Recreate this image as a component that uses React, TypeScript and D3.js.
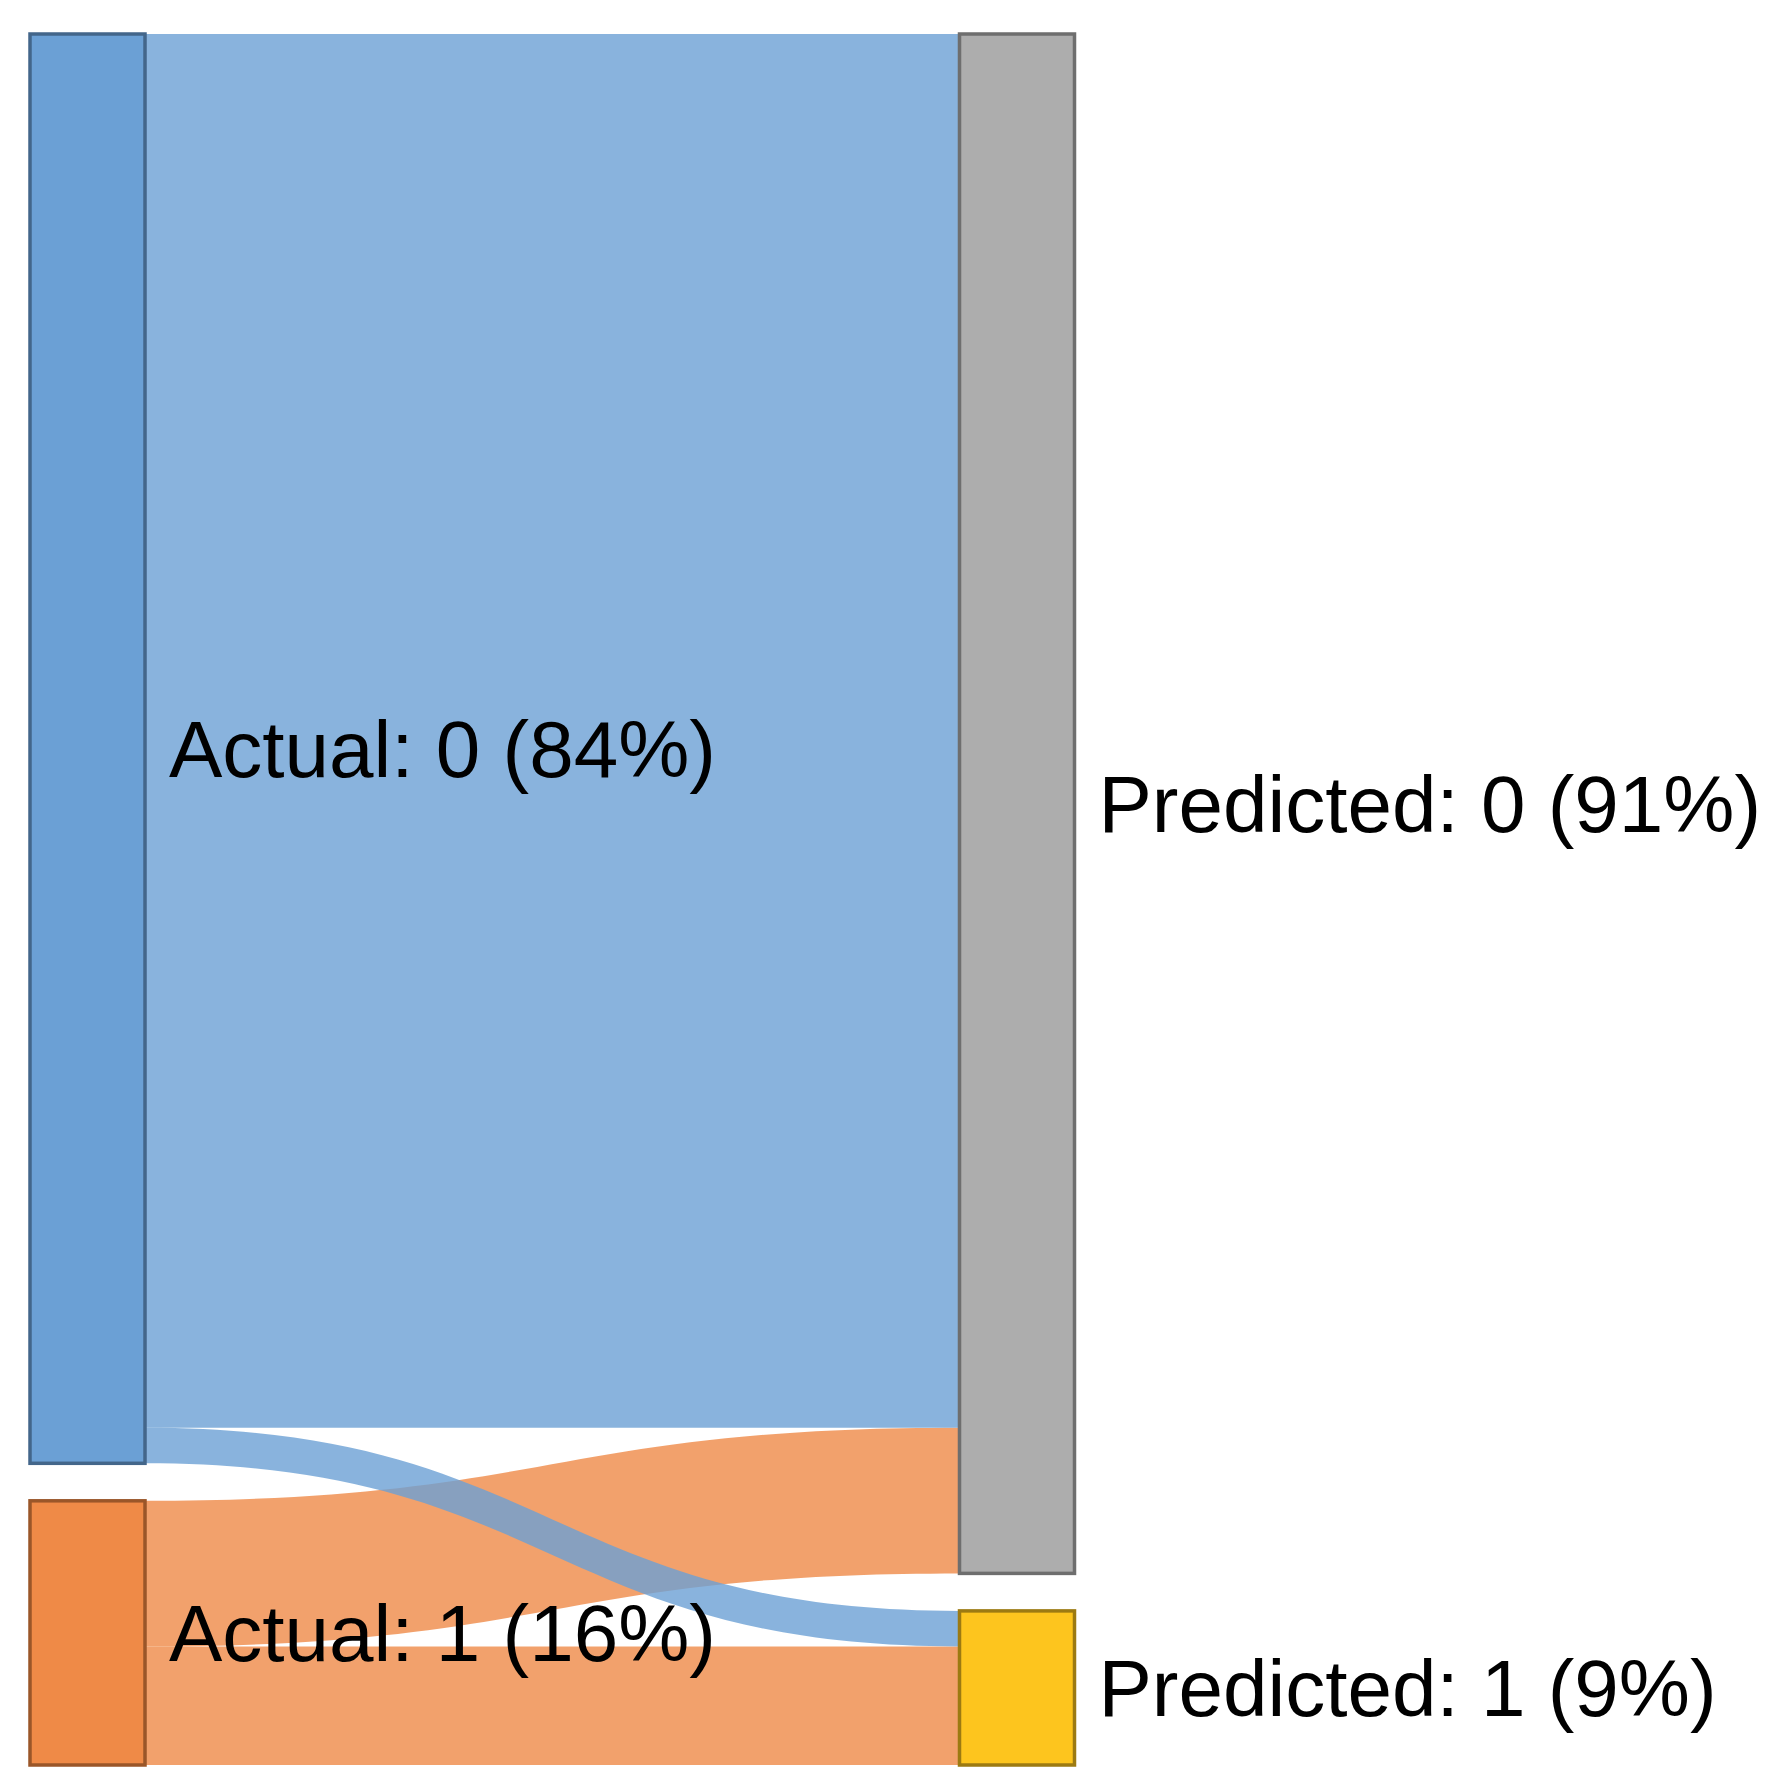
import React from "react";
import * as d3 from "d3";

// ---- data ----
const nodeNames = ["Actual: 0", "Actual: 1", "Predicted: 0", "Predicted: 1"];
const nodeColumns = [0, 0, 1, 1];
const nodeColors = ["#6ba0d5", "#ef8a47", "#adadad", "#fdc51e"];
const nodeStrokes = ["#43668a", "#9a5629", "#6e6e6e", "#9c7a12"];

const linkSources = [0, 0, 1, 1];
const linkTargets = [2, 3, 2, 3];
const linkValues = [823, 21, 86, 70];

// ---- layout constants ----
const W = 1773;
const H = 1791;
const TOP = 34;
const BOTTOM = 1765;
const PAD = 37.5;
const COL_X0 = [30, 959.5];
const NODE_W = 115;

export default function App() {
  const nodes = nodeNames.map((name, i) => {
    const outV = d3.sum(linkValues.filter((_, k) => linkSources[k] === i));
    const inV = d3.sum(linkValues.filter((_, k) => linkTargets[k] === i));
    return { i, name, col: nodeColumns[i], value: Math.max(outV, inV), y0: 0, y1: 0 };
  });
  const total = d3.sum(nodes.filter((n) => n.col === 0), (n) => n.value);
  const y = d3.scaleLinear().domain([0, total]).range([0, BOTTOM - TOP - PAD]);

  [0, 1].forEach((c) => {
    let cur = TOP;
    nodes
      .filter((n) => n.col === c)
      .forEach((n) => {
        n.y0 = cur;
        n.y1 = cur + y(n.value);
        cur = n.y1 + PAD;
      });
  });

  const links = linkValues.map((v, k) => ({ k, s: linkSources[k], t: linkTargets[k], v, sy: 0, ty: 0, w: y(v) }));
  nodes.forEach((n) => {
    let cs = n.y0;
    links.filter((l) => l.s === n.i).sort((a, b) => a.t - b.t).forEach((l) => { l.sy = cs; cs += l.w; });
    let ct = n.y0;
    links.filter((l) => l.t === n.i).sort((a, b) => a.s - b.s).forEach((l) => { l.ty = ct; ct += l.w; });
  });

  const pathFor = (l) => {
    const x0 = COL_X0[0] + NODE_W;
    const x1 = COL_X0[1];
    const xm = (x0 + x1) / 2;
    const p = d3.path();
    p.moveTo(x0, l.sy);
    p.bezierCurveTo(xm, l.sy, xm, l.ty, x1, l.ty);
    p.lineTo(x1, l.ty + l.w);
    p.bezierCurveTo(xm, l.ty + l.w, xm, l.sy + l.w, x0, l.sy + l.w);
    p.closePath();
    return p.toString();
  };

  const drawOrder = [...links].sort((a, b) => b.s - a.s);
  const fmt = d3.format(".0%");

  return (
    <svg width={W} height={H} style={{ position: "absolute", left: 0, top: 0, background: "#fff" }}>
      <g>
        {drawOrder.map((l) => (
          <path key={l.k} d={pathFor(l)} fill={nodeColors[l.s]} fillOpacity={0.8} />
        ))}
      </g>
      <g>
        {nodes.map((n) => (
          <rect
            key={n.i}
            x={COL_X0[n.col]}
            y={n.y0}
            width={NODE_W}
            height={n.y1 - n.y0}
            fill={nodeColors[n.i]}
            stroke={nodeStrokes[n.i]}
            strokeWidth={3.5}
          />
        ))}
      </g>
      <g fontFamily="'Liberation Sans', Arial, sans-serif" fontSize={80} fill="#000">
        {nodes.map((n) => (
          <text key={n.i} x={COL_X0[n.col] + NODE_W + 24} y={(n.y0 + n.y1) / 2} dy="0.35em">
            {`${n.name} (${fmt(n.value / total)})`}
          </text>
        ))}
      </g>
    </svg>
  );
}
